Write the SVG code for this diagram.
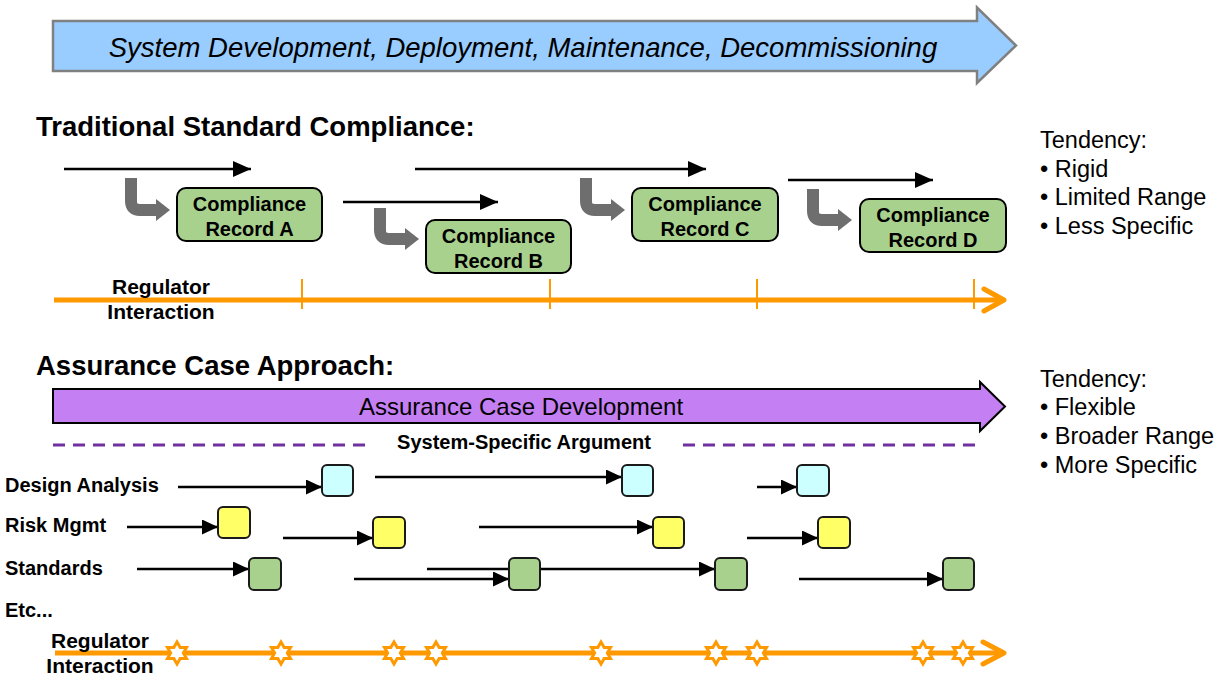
<svg xmlns="http://www.w3.org/2000/svg" xmlns:xlink="http://www.w3.org/1999/xlink" width="1226" height="676" viewBox="0 0 1226 676">
<style>
text{font-family:"Liberation Sans",Arial,sans-serif;fill:#000}
.h{font-size:27.5px;font-weight:bold}
.bx{font-size:20px;font-weight:bold;text-anchor:middle}
.lb{font-size:20px;font-weight:bold}
.rg{font-size:21px;font-weight:bold;text-anchor:middle}
.tn{font-size:23.5px}
.rec{fill:#a9d18e;stroke:#000;stroke-width:2}
.sq{stroke:#1a1a1a;stroke-width:2}
.cy{fill:#ccffff}.ye{fill:#ffff66}.gr{fill:#a9d18e}
.ln{stroke:#000;stroke-width:2.5;fill:none}
.ln2{stroke:#000;stroke-width:2.5;fill:none}
.bend{stroke:#6e6e6e;stroke-width:12;fill:none}
.bh{fill:#6e6e6e}
.or{stroke:#ff9900;stroke-width:5;fill:none}
.tk{stroke:#ff9900;stroke-width:2;fill:none}
.st{fill:#fff;stroke:#ff9900;stroke-width:3}
</style>
<defs>
<marker id="ah" markerUnits="userSpaceOnUse" markerWidth="18" markerHeight="16" refX="18" refY="8" orient="auto"><path d="M0,0 L18,8 L0,16 z" fill="#000"/></marker>
<marker id="ah2" markerUnits="userSpaceOnUse" markerWidth="16" markerHeight="15" refX="16" refY="7.5" orient="auto"><path d="M0,0 L16,7.5 L0,15 z" fill="#000"/></marker>
<path id="star" d="M0,-11 L3.18,-5.5 L9.53,-5.5 L6.35,0 L9.53,5.5 L3.18,5.5 L0,11 L-3.18,5.5 L-9.53,5.5 L-6.35,0 L-9.53,-5.5 L-3.18,-5.5 Z"/>
</defs>

<g id="lifecycle-arrow">
<path d="M53,21 L977,21 L977,7.5 L1016,45.5 L977,83 L977,71 L53,71 Z" fill="#99ccff" stroke="#808080" stroke-width="2.5"/>
<text x="523" y="57" text-anchor="middle" font-size="27.5" font-style="italic">System Development, Deployment, Maintenance, Decommissioning</text>
</g>

<g id="traditional-title"><text class="h" x="36" y="136">Traditional Standard Compliance:</text></g>

<g id="connectors">
<line class="ln" x1="64" y1="169" x2="251" y2="169" marker-end="url(#ah)"/>
<line class="ln" x1="343" y1="202" x2="498" y2="202" marker-end="url(#ah)"/>
<line class="ln" x1="415" y1="169" x2="706" y2="169" marker-end="url(#ah)"/>
<line class="ln" x1="788" y1="180" x2="933" y2="180" marker-end="url(#ah)"/>

<path class="bend" d="M131,178 L131,201 Q131,210 140,210 L157,210"/>
<polygon class="bh" points="156,199 170,210 156,221"/>
<path class="bend" d="M380,208 L380,230 Q380,239 389,239 L406,239"/>
<polygon class="bh" points="405,228 419,239 405,250"/>
<path class="bend" d="M586,178 L586,201 Q586,210 595,210 L612,210"/>
<polygon class="bh" points="611,199 625,210 611,221"/>
<path class="bend" d="M813,189 L813,211 Q813,220 822,220 L839,220"/>
<polygon class="bh" points="838,209 852,220 838,231"/>

<line class="ln2" x1="178" y1="487" x2="322" y2="487" marker-end="url(#ah2)"/>
<line class="ln2" x1="375" y1="477" x2="622" y2="477" marker-end="url(#ah2)"/>
<line class="ln2" x1="757" y1="487" x2="797" y2="487" marker-end="url(#ah2)"/>

<line class="ln2" x1="127" y1="527" x2="218" y2="527" marker-end="url(#ah2)"/>
<line class="ln2" x1="283" y1="538" x2="373" y2="538" marker-end="url(#ah2)"/>
<line class="ln2" x1="479" y1="527" x2="653" y2="527" marker-end="url(#ah2)"/>
<line class="ln2" x1="747" y1="538" x2="818" y2="538" marker-end="url(#ah2)"/>

<line class="ln2" x1="137" y1="569" x2="249" y2="569" marker-end="url(#ah2)"/>
<line class="ln2" x1="427" y1="569" x2="715" y2="569" marker-end="url(#ah2)"/>
<line class="ln2" x1="354" y1="579" x2="509" y2="579" marker-end="url(#ah2)"/>
<line class="ln2" x1="799" y1="579" x2="943" y2="579" marker-end="url(#ah2)"/>
</g>

<g id="record-a"><rect class="rec" x="177" y="188" width="145" height="53" rx="9"/><text class="bx" x="249.5" y="211">Compliance</text><text class="bx" x="249.5" y="236">Record A</text></g>
<g id="record-b"><rect class="rec" x="426" y="220" width="145" height="53" rx="9"/><text class="bx" x="498.5" y="243">Compliance</text><text class="bx" x="498.5" y="268">Record B</text></g>
<g id="record-c"><rect class="rec" x="632" y="188" width="146" height="53" rx="9"/><text class="bx" x="705" y="211">Compliance</text><text class="bx" x="705" y="236">Record C</text></g>
<g id="record-d"><rect class="rec" x="860" y="199" width="146" height="53" rx="9"/><text class="bx" x="933" y="222">Compliance</text><text class="bx" x="933" y="247">Record D</text></g>

<g id="regulator-traditional">
<line class="or" x1="54" y1="300" x2="1003" y2="300"/>
<polyline class="or" points="984,289 1004,300 984,311" stroke-linecap="round" stroke-linejoin="round"/>
<line class="tk" x1="302" y1="279" x2="302" y2="309"/>
<line class="tk" x1="550" y1="279" x2="550" y2="309"/>
<line class="tk" x1="757" y1="279" x2="757" y2="309"/>
<line class="tk" x1="974" y1="279" x2="974" y2="309"/>
<text class="rg" x="161" y="294">Regulator</text>
<text class="rg" x="161" y="319">Interaction</text>
</g>

<g id="tendency-traditional">
<text class="tn" x="1040" y="148">Tendency:</text>
<text class="tn" x="1040" y="177">• Rigid</text>
<text class="tn" x="1040" y="205">• Limited Range</text>
<text class="tn" x="1040" y="234">• Less Specific</text>
</g>

<g id="assurance-title"><text class="h" x="36" y="375">Assurance Case Approach:</text></g>

<g id="assurance-arrow">
<path d="M53,389 L980,389 L980,382 L1005,406.5 L980,431 L980,423 L53,423 Z" fill="#c47ff2" stroke="#000" stroke-width="2"/>
<text x="521" y="415" text-anchor="middle" font-size="24">Assurance Case Development</text>
</g>

<g id="system-specific-argument">
<line x1="53" y1="445" x2="372" y2="445" stroke="#7030a0" stroke-width="3" stroke-dasharray="12,8"/>
<line x1="683" y1="445" x2="980" y2="445" stroke="#7030a0" stroke-width="3" stroke-dasharray="12,8"/>
<text class="lb" x="524" y="449" text-anchor="middle">System-Specific Argument</text>
</g>

<g id="row-labels">
<text class="lb" x="5" y="492">Design Analysis</text>
<text class="lb" x="5" y="532">Risk Mgmt</text>
<text class="lb" x="5" y="575">Standards</text>
<text class="lb" x="5" y="617">Etc...</text>
</g>

<g id="design-1"><rect class="sq cy" x="322" y="465" width="31" height="31" rx="5"/></g>
<g id="design-2"><rect class="sq cy" x="622" y="465" width="31" height="31" rx="5"/></g>
<g id="design-3"><rect class="sq cy" x="797" y="465" width="32" height="31" rx="5"/></g>

<g id="risk-1"><rect class="sq ye" x="218" y="507" width="32" height="31" rx="5"/></g>
<g id="risk-2"><rect class="sq ye" x="373" y="517" width="32" height="31" rx="5"/></g>
<g id="risk-3"><rect class="sq ye" x="653" y="517" width="31" height="31" rx="5"/></g>
<g id="risk-4"><rect class="sq ye" x="818" y="517" width="32" height="31" rx="5"/></g>

<g id="std-1"><rect class="sq gr" x="249" y="558" width="32" height="32" rx="5"/></g>
<g id="std-2"><rect class="sq gr" x="509" y="558" width="31" height="32" rx="5"/></g>
<g id="std-3"><rect class="sq gr" x="715" y="558" width="32" height="32" rx="5"/></g>
<g id="std-4"><rect class="sq gr" x="943" y="558" width="31" height="32" rx="5"/></g>

<g id="regulator-assurance">
<line class="or" x1="55" y1="653" x2="1002" y2="653"/>
<polyline class="or" points="983,642 1004,653 983,664" stroke-linecap="round" stroke-linejoin="round"/>
<use xlink:href="#star" class="st" x="177" y="653"/>
<use xlink:href="#star" class="st" x="281" y="653"/>
<use xlink:href="#star" class="st" x="394" y="653"/>
<use xlink:href="#star" class="st" x="436" y="653"/>
<use xlink:href="#star" class="st" x="601" y="653"/>
<use xlink:href="#star" class="st" x="716" y="653"/>
<use xlink:href="#star" class="st" x="757" y="653"/>
<use xlink:href="#star" class="st" x="923" y="653"/>
<use xlink:href="#star" class="st" x="963" y="653"/>
<text class="rg" x="100" y="648">Regulator</text>
<text class="rg" x="100" y="673">Interaction</text>
</g>

<g id="tendency-assurance">
<text class="tn" x="1040" y="387">Tendency:</text>
<text class="tn" x="1040" y="415">• Flexible</text>
<text class="tn" x="1040" y="444">• Broader Range</text>
<text class="tn" x="1040" y="473">• More Specific</text>
</g>
</svg>
